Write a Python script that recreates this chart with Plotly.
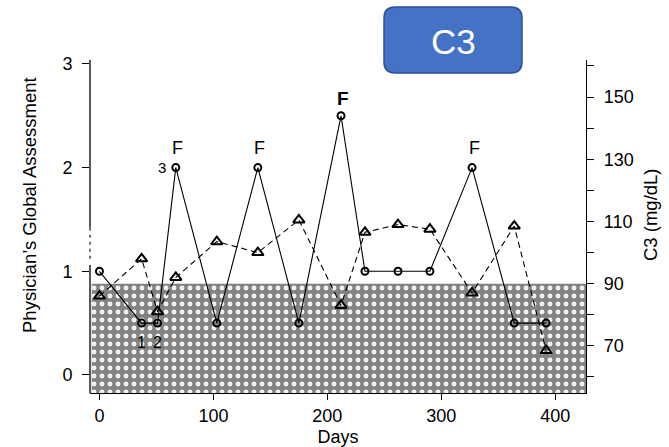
import plotly.graph_objects as go

# ---- data ----
days = [0, 37, 51, 67, 103, 139, 175, 212, 233, 262, 290, 327, 364, 392]
pga = [1.0, 0.5, 0.5, 2.0, 0.5, 2.0, 0.5, 2.5, 1.0, 1.0, 1.0, 2.0, 0.5, 0.5]
c3 = [86, 98, 81, 92, 103.5, 100, 110.5, 83, 106.5, 109, 107.5, 87, 108.5, 68.5]

flare_days = [67, 139, 212, 327]
flare_pga = [2.0, 2.0, 2.5, 2.0]
flare_labels = ["F", "F", "F", "F"]

visit_label_days = [37, 51, 67]
visit_label_pga = [0.5, 0.5, 2.0]
visit_labels = ["1", "2", "3"]

x_ticks = [0, 100, 200, 300, 400]
left_ticks = [0, 1, 2, 3]
right_ticks = [70, 90, 110, 130, 150]
C3_LOW_NORMAL = 90

X_RANGE = [-8.3, 427]
LEFT_RANGE = [-0.174, 3.038]
RIGHT_RANGE = [54.85, 161.9]

# ---- layout geometry (pixels) ----
W, H = 669, 447
L, R, T, B = 90, 83, 60, 54
PW, PH = W - L - R, H - T - B


def px2paper(px, py):
    return (px - L) / PW, (H - B - py) / PH


def rounded_rect(x0, y0, x1, y1, r):
    def P(px, py):
        a, b = px2paper(px, py)
        return f"{a:.5f},{b:.5f}"
    return (
        f"M {P(x0 + r, y0)} L {P(x1 - r, y0)} Q {P(x1, y0)} {P(x1, y0 + r)} "
        f"L {P(x1, y1 - r)} Q {P(x1, y1)} {P(x1 - r, y1)} "
        f"L {P(x0 + r, y1)} Q {P(x0, y1)} {P(x0, y1 - r)} "
        f"L {P(x0, y0 + r)} Q {P(x0, y0)} {P(x0 + r, y0)} Z"
    )


FONT = "Liberation Sans, Arial, sans-serif"

fig = go.Figure()

# shaded region below the lower limit of normal C3 (base axis y = C3, right side)
fig.add_trace(go.Scatter(
    x=[X_RANGE[0] + 1.5, X_RANGE[1], X_RANGE[1], X_RANGE[0] + 1.5],
    y=[RIGHT_RANGE[0], RIGHT_RANGE[0], C3_LOW_NORMAL, C3_LOW_NORMAL],
    yaxis="y", fill="toself", mode="none",
    fillcolor="#8c8c8c",
    fillpattern=dict(shape=".", bgcolor="#828282", fgcolor="#f0f0f0",
                     size=8, solidity=0.3, fillmode="replace"),
    hoverinfo="skip", showlegend=False,
))

# C3 line (right axis)
fig.add_trace(go.Scatter(
    x=days, y=c3, yaxis="y", mode="lines+markers",
    line=dict(color="black", width=1.1, dash="6px,4px"),
    marker=dict(symbol="triangle-up-open", size=10, color="black",
                line=dict(width=2, color="black")),
    showlegend=False, hoverinfo="skip",
))

# PGA line (left axis)
fig.add_trace(go.Scatter(
    x=days, y=pga, yaxis="y2", mode="lines+markers",
    line=dict(color="black", width=1.1),
    marker=dict(symbol="circle-open", size=7, color="black",
                line=dict(width=2, color="black")),
    showlegend=False, hoverinfo="skip",
))

annotations = []
for d, v, t in zip(flare_days, flare_pga, flare_labels):
    big = v >= 2.5
    annotations.append(dict(
        x=d, y=v, xref="x", yref="y2", text=f"<b>{t}</b>" if big else t,
        showarrow=False, yshift=20 if not big else 17,
        xshift=2,
        font=dict(family=FONT, size=19 if big else 18, color="black"),
    ))
for d, v, t in zip(visit_label_days, visit_label_pga, visit_labels):
    if t == "3":
        annotations.append(dict(x=d, y=v, xref="x", yref="y2", text=t,
                                showarrow=False, xshift=-14, yshift=0,
                                font=dict(family=FONT, size=15, color="black")))
    else:
        annotations.append(dict(x=d, y=v, xref="x", yref="y2", text=t,
                                showarrow=False, yshift=-19,
                                font=dict(family=FONT, size=16, color="black")))

# axis titles
annotations.append(dict(
    x=px2paper(30, 0)[0], y=px2paper(0, 205)[1], xref="paper", yref="paper",
    xanchor="center", yanchor="middle",
    text="Physician\u2019s Global Assessment", textangle=-90, showarrow=False,
    font=dict(family=FONT, size=18.5, color="black"),
))
annotations.append(dict(
    x=px2paper(651, 0)[0], y=px2paper(0, 215)[1], xref="paper", yref="paper",
    xanchor="center", yanchor="middle",
    text="C3 (mg/dL)", textangle=-90, showarrow=False,
    font=dict(family=FONT, size=18.5, color="black"),
))
# C3 badge
cx, cy = px2paper(453, 41)
annotations.append(dict(
    x=cx, y=cy, xref="paper", yref="paper", text="C3", showarrow=False,
    xanchor="center", yanchor="middle",
    font=dict(family=FONT, size=35, color="white"),
))

shapes = [
    dict(type="path", path=rounded_rect(384, 7, 522, 73, 11),
         xref="paper", yref="paper", fillcolor="#4472C4",
         line=dict(color="#2F528F", width=1.5), layer="above"),
    # left axis line with break
    dict(type="line", xref="paper", yref="y2", x0=0, x1=0, y0=1.42, y1=LEFT_RANGE[1],
         line=dict(color="black", width=1.3)),
    dict(type="line", xref="paper", yref="y2", x0=0, x1=0, y0=1.12, y1=1.42,
         line=dict(color="black", width=1.1, dash="3px,4px")),
    dict(type="line", xref="paper", yref="y2", x0=0, x1=0, y0=LEFT_RANGE[0], y1=1.06,
         line=dict(color="black", width=1.3)),
]

fig.update_layout(
    width=W, height=H,
    margin=dict(l=L, r=R, t=T, b=B, pad=0),
    paper_bgcolor="white", plot_bgcolor="white",
    font=dict(family=FONT, size=18, color="black"),
    hovermode=False,
    xaxis=dict(
        range=X_RANGE, tickvals=x_ticks, ticks="outside", ticklen=6,
        tickcolor="black", showline=True, linecolor="black", linewidth=1.3,
        showgrid=False, zeroline=False, automargin=False,
        title=dict(text="Days", standoff=6, font=dict(size=18)),
        tickfont=dict(size=18),
    ),
    yaxis=dict(
        range=RIGHT_RANGE, side="right",
        tickvals=right_ticks, ticks="outside", ticklen=7, tickcolor="black",
        minor=dict(dtick=10, tick0=0, ticks="outside", ticklen=7, tickcolor="black"),
        showline=True, linecolor="black", linewidth=1.3,
        showgrid=False, zeroline=False, tickfont=dict(size=18),
        ticklabelstandoff=6, automargin=False,
    ),
    yaxis2=dict(
        range=LEFT_RANGE, overlaying="y", side="left",
        tickvals=left_ticks, ticks="outside", ticklen=7,
        tickcolor="black", showline=False, showgrid=False, zeroline=False,
        tickfont=dict(size=18), ticklabelstandoff=6, automargin=False,
    ),
    annotations=annotations, shapes=shapes,
)

fig.write_html("out.html", config={"displayModeBar": False},
               post_script="document.body.style.margin='0';")
